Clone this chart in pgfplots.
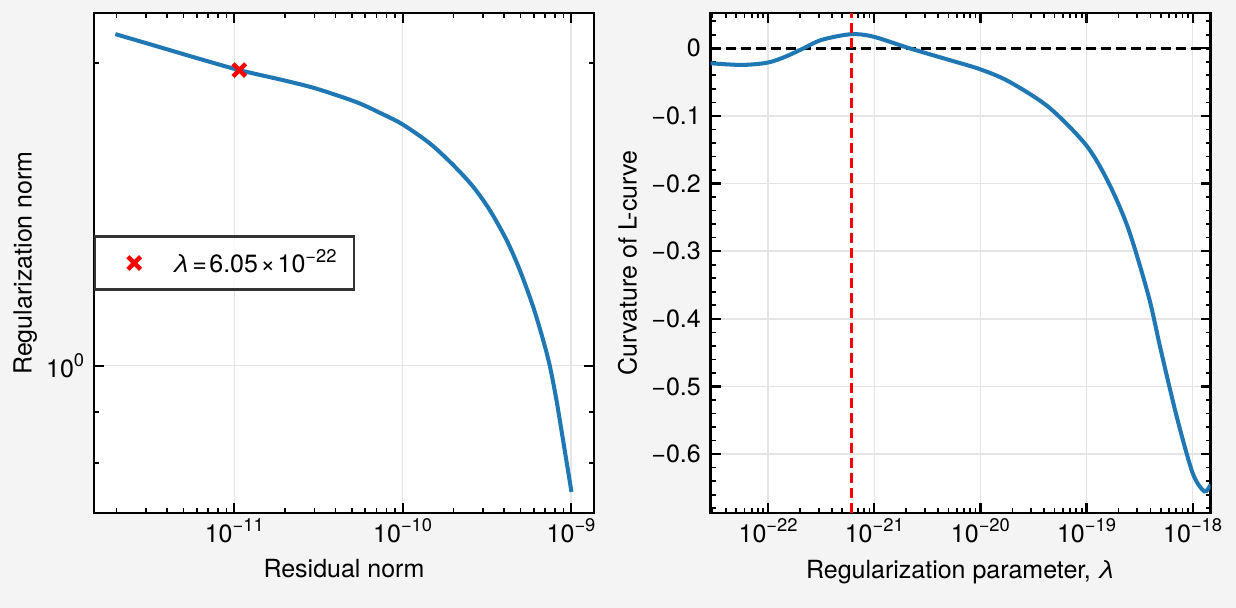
\documentclass[border=0pt]{standalone}
\usepackage{fontspec}
\setmainfont{TeX Gyre Heros}
\usepackage{pgfplots}
\pgfplotsset{compat=1.18}
\definecolor{figbg}{HTML}{F4F4F4}
\definecolor{tabblue}{HTML}{1F77B4}
\newcommand{\tsup}[1]{\raisebox{0.43em}{\fontsize{6.6pt}{7pt}\selectfont #1}}
\newcommand{\ninept}{\fontsize{9pt}{11pt}\selectfont}
\pgfplotsset{
  pp/.style={
    scale only axis, width=180pt, height=180pt,
    tick label style={font=\ninept},
    label style={font=\ninept},
    axis background/.style={fill=white},
    axis line style={line width=0.9pt, black},
    tick align=inside,
    major tick length=3.6pt, minor tick length=1.8pt,
    every major tick/.style={line width=0.8pt, black},
    every minor tick/.style={line width=0.6pt, black},
    grid=major,
    major grid style={line width=0.5pt, black!10},
    clip=true,
  },
  xlegend/.style={legend image code/.code={\path (0pt,0pt) (20pt,0pt);\draw[mark repeat=2,mark phase=2,##1] plot coordinates {(0pt,0pt) (9pt,0pt) (20pt,0pt)};}},
}
\begin{document}
\begin{tikzpicture}
\fill[figbg] (0,0) rectangle (444.96pt,218.88pt);
% ---------- left: L-curve ----------
\begin{axis}[pp,
  at={(33.84pt,34.2pt)}, anchor=south west,
  xmode=log, ymode=log,
  xmin=1.468e-12, xmax=1.368e-9,
  ymin=0.7137, ymax=2.244,
  xtick={1e-11,1e-10,1e-9},
  xticklabels={10\tsup{−11},10\tsup{−10},10\tsup{−9}},
  minor xtick={2e-12,3e-12,4e-12,5e-12,6e-12,7e-12,8e-12,9e-12,
               2e-11,3e-11,4e-11,5e-11,6e-11,7e-11,8e-11,9e-11,
               2e-10,3e-10,4e-10,5e-10,6e-10,7e-10,8e-10,9e-10},
  ytick={1},
  yticklabels={10\tsup{0}},
  minor ytick={0.8,0.9,2},
  xticklabel style={yshift=1.5pt},
  xlabel={Residual norm},
  ylabel={Regularization norm},
  xlabel style={at={(axis description cs:0.5,-0.13)}, anchor=base},
  ylabel style={at={(axis description cs:-0.1246,0.5)}, anchor=base},
  legend style={at={(axis description cs:0,0.5)}, anchor=west,
    draw=black!80, line width=0.8pt, fill=white, fill opacity=0.8,
    draw opacity=1, text opacity=1, inner xsep=4.3pt, inner ysep=2.5pt,
    font=\ninept, sharp corners},
  legend cell align=left,
]
\addplot[tabblue, line width=1.45pt, smooth, forget plot] table {
x y
1.967e-12 2.138
3.54e-12 2.077
6.09e-12 2.022
1.071e-11 1.969
2.0e-11 1.922
3.07e-11 1.887
5.30e-11 1.830
7.33e-11 1.785
9.90e-11 1.740
1.452e-10 1.664
1.995e-10 1.584
2.623e-10 1.507
3.294e-10 1.428
4.137e-10 1.334
4.962e-10 1.245
5.951e-10 1.145
6.823e-10 1.061
7.475e-10 1.000
8.19e-10 0.9244
8.963e-10 0.8435
1.0056e-9 0.749
};
\addplot[only marks, mark=x, red, mark size=3.2pt, line width=1.6pt, xlegend]
  coordinates {(1.071e-11,1.969)};
\addlegendentry{\textit{λ}\kern0.9pt=\kern0.9pt6.05\kern0.9pt×\kern0.9pt10\tsup{−22}}
\end{axis}
% ---------- right: curvature ----------
\begin{axis}[pp,
  at={(255.82pt,34.2pt)}, anchor=south west,
  xmode=log,
  xmin=2.87e-23, xmax=1.475e-18,
  ymin=-0.687, ymax=0.0521,
  xtick={1e-22,1e-21,1e-20,1e-19,1e-18},
  xticklabels={10\tsup{−22},10\tsup{−21},10\tsup{−20},10\tsup{−19},10\tsup{−18}},
  minor xtick={3e-23,4e-23,5e-23,6e-23,7e-23,8e-23,9e-23,
               2e-22,3e-22,4e-22,5e-22,6e-22,7e-22,8e-22,9e-22,
               2e-21,3e-21,4e-21,5e-21,6e-21,7e-21,8e-21,9e-21,
               2e-20,3e-20,4e-20,5e-20,6e-20,7e-20,8e-20,9e-20,
               2e-19,3e-19,4e-19,5e-19,6e-19,7e-19,8e-19,9e-19},
  ytick={-0.6,-0.5,-0.4,-0.3,-0.2,-0.1,0},
  yticklabels={−0.6,−0.5,−0.4,−0.3,−0.2,−0.1,0},
  minor ytick={-0.68,-0.66,-0.64,-0.62,-0.58,-0.56,-0.54,-0.52,-0.48,-0.46,-0.44,-0.42,
               -0.38,-0.36,-0.34,-0.32,-0.28,-0.26,-0.24,-0.22,-0.18,-0.16,-0.14,-0.12,
               -0.08,-0.06,-0.04,-0.02,0.02,0.04},
  xticklabel style={yshift=1.5pt},
  xlabel={Regularization parameter, \textit{λ}},
  ylabel={Curvature of L-curve},
  xlabel style={at={(axis description cs:0.5,-0.132)}, anchor=base},
  ylabel style={at={(axis description cs:-0.148,0.5)}, anchor=base},
]
\addplot[black, line width=1pt, dash pattern=on 3.6pt off 1.8pt] coordinates {(2.87e-23,0) (1.475e-18,0)};
\addplot[tabblue, line width=1.45pt, smooth] table {
x y
2.87e-23 -0.0222
5.65e-23 -0.0247
9.9e-23 -0.0213
1.46e-22 -0.0124
2.07e-22 -0.0015
3.19e-22 0.0123
6.04e-22 0.0207
9.8e-22 0.0171
2.14e-21 0.0
5.07e-21 -0.0173
9.9e-21 -0.0310
1.86e-20 -0.0493
4.43e-20 -0.0875
1.0e-19 -0.1440
1.62e-19 -0.1994
2.49e-19 -0.2680
3.85e-19 -0.3670
5.0e-19 -0.4456
7.06e-19 -0.5440
1.0e-18 -0.6280
1.29e-18 -0.6550
1.475e-18 -0.6450
};
\addplot[red, line width=1.1pt, dash pattern=on 3.6pt off 1.8pt] coordinates {(6.05e-22,-0.687) (6.05e-22,0.0521)};
\end{axis}
\pgfresetboundingbox
\path[use as bounding box] (0,0) rectangle (444.96pt,218.88pt);
\end{tikzpicture}
\end{document}
